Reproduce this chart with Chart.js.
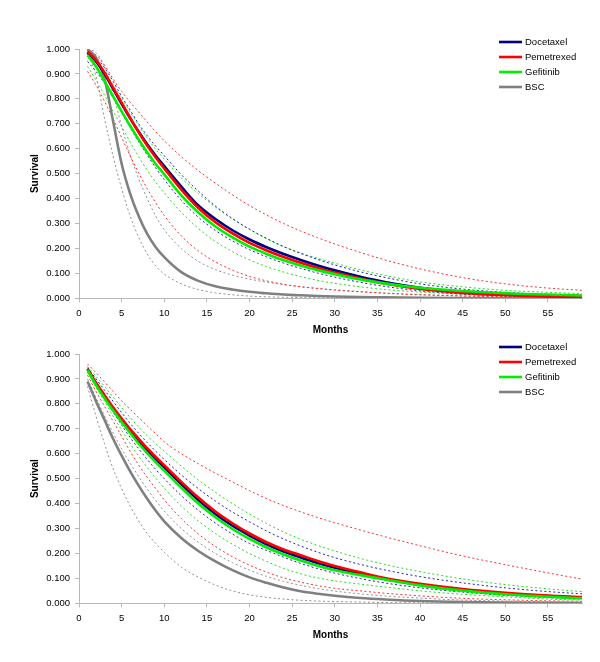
<!DOCTYPE html>
<html>
<head>
<meta charset="utf-8">
<script src="https://cdn.jsdelivr.net/npm/chart.js"></script>
<style>
  body { margin: 0; background: #fff; }
  #wrap { position: relative; width: 600px; height: 662px; }
  canvas { position: absolute; left: 0; }
  #chartTop { top: 0; }
  #chartBottom { top: 305px; }
</style>
</head>
<body>
<div id="wrap">
  <canvas id="chartTop" width="600" height="345"></canvas>
  <canvas id="chartBottom" width="600" height="345"></canvas>
</div>
<script>
// ====== DATA ======
const months = [1, 2, 3, 4, 5, 6, 7, 8, 9, 10, 12, 14, 16, 18, 20, 22, 24, 26, 28, 30, 33, 36, 40, 45, 50, 55, 59];
const xTicks = [0, 5, 10, 15, 20, 25, 30, 35, 40, 45, 50, 55];
const yTicks = [0, 0.1, 0.2, 0.3, 0.4, 0.5, 0.6, 0.7, 0.8, 0.9, 1.0];
const treatments = ["Docetaxel", "Pemetrexed", "Gefitinib", "BSC"];

// top panel - central estimates
const topDoc = [0.985, 0.95, 0.90, 0.84, 0.78, 0.722, 0.668, 0.618, 0.572, 0.53, 0.448, 0.372, 0.318, 0.273, 0.236, 0.205, 0.178, 0.154, 0.132, 0.112, 0.086, 0.064, 0.042, 0.025, 0.015, 0.009, 0.006];
const topPem = [0.99, 0.955, 0.905, 0.845, 0.785, 0.724, 0.666, 0.613, 0.565, 0.521, 0.436, 0.362, 0.305, 0.26, 0.222, 0.192, 0.166, 0.143, 0.122, 0.103, 0.079, 0.058, 0.037, 0.021, 0.012, 0.007, 0.005];
const topGef = [0.975, 0.93, 0.87, 0.81, 0.75, 0.692, 0.637, 0.586, 0.539, 0.497, 0.413, 0.344, 0.288, 0.244, 0.207, 0.178, 0.153, 0.132, 0.113, 0.097, 0.076, 0.059, 0.042, 0.029, 0.02, 0.015, 0.011];
const topBsc = [1.0, 0.965, 0.88, 0.71, 0.54, 0.42, 0.33, 0.258, 0.205, 0.165, 0.105, 0.07, 0.048, 0.035, 0.026, 0.02, 0.015, 0.012, 0.009, 0.007, 0.005, 0.004, 0.002, 0.001, 0, 0, 0];
// top panel - bounds
const topDocHi = [0.995, 0.965, 0.925, 0.87, 0.81, 0.755, 0.70, 0.652, 0.61, 0.572, 0.496, 0.43, 0.37, 0.32, 0.277, 0.24, 0.207, 0.18, 0.156, 0.134, 0.106, 0.083, 0.058, 0.037, 0.024, 0.016, 0.012];
const topDocLo = [0.95, 0.91, 0.862, 0.805, 0.745, 0.685, 0.628, 0.575, 0.523, 0.476, 0.393, 0.325, 0.272, 0.23, 0.195, 0.166, 0.141, 0.12, 0.101, 0.085, 0.064, 0.047, 0.03, 0.017, 0.01, 0.006, 0.004];
const topPemHi = [1.0, 0.975, 0.935, 0.88, 0.83, 0.787, 0.747, 0.707, 0.668, 0.632, 0.568, 0.512, 0.462, 0.415, 0.372, 0.334, 0.3, 0.27, 0.243, 0.218, 0.184, 0.153, 0.118, 0.083, 0.058, 0.041, 0.032];
const topPemLo = [0.91, 0.855, 0.79, 0.72, 0.645, 0.572, 0.503, 0.44, 0.383, 0.332, 0.25, 0.19, 0.146, 0.113, 0.088, 0.07, 0.056, 0.046, 0.039, 0.033, 0.026, 0.02, 0.014, 0.009, 0.006, 0.004, 0.003];
const topGefHi = [0.99, 0.957, 0.912, 0.857, 0.802, 0.747, 0.693, 0.643, 0.598, 0.558, 0.483, 0.42, 0.366, 0.318, 0.277, 0.24, 0.208, 0.182, 0.16, 0.141, 0.114, 0.091, 0.066, 0.046, 0.032, 0.024, 0.019];
const topGefLo = [0.93, 0.875, 0.815, 0.75, 0.69, 0.627, 0.568, 0.514, 0.466, 0.423, 0.345, 0.28, 0.228, 0.187, 0.154, 0.127, 0.105, 0.087, 0.072, 0.06, 0.046, 0.035, 0.025, 0.016, 0.011, 0.008, 0.006];
const topBscHi = [1.0, 0.985, 0.93, 0.82, 0.69, 0.575, 0.48, 0.40, 0.33, 0.275, 0.2, 0.148, 0.115, 0.093, 0.077, 0.065, 0.055, 0.047, 0.04, 0.034, 0.027, 0.021, 0.015, 0.01, 0.007, 0.005, 0.004];
const topBscLo = [0.99, 0.89, 0.72, 0.57, 0.44, 0.33, 0.245, 0.178, 0.13, 0.097, 0.058, 0.035, 0.022, 0.014, 0.009, 0.006, 0.004, 0.003, 0.002, 0.002, 0.001, 0.001, 0, 0, 0, 0, 0];

// bottom panel - central estimates
const botDoc = [0.94, 0.882, 0.83, 0.781, 0.735, 0.692, 0.651, 0.613, 0.578, 0.545, 0.478, 0.414, 0.358, 0.311, 0.272, 0.237, 0.208, 0.184, 0.162, 0.143, 0.118, 0.097, 0.074, 0.054, 0.039, 0.029, 0.022];
const botPem = [0.94, 0.885, 0.835, 0.786, 0.741, 0.699, 0.66, 0.622, 0.587, 0.554, 0.487, 0.424, 0.368, 0.321, 0.28, 0.245, 0.216, 0.193, 0.17, 0.15, 0.124, 0.1, 0.078, 0.057, 0.042, 0.031, 0.025];
const botGef = [0.935, 0.875, 0.822, 0.773, 0.727, 0.683, 0.641, 0.602, 0.566, 0.532, 0.464, 0.4, 0.345, 0.298, 0.258, 0.224, 0.196, 0.172, 0.151, 0.133, 0.113, 0.095, 0.072, 0.051, 0.036, 0.026, 0.02];
const botBsc = [0.89, 0.81, 0.735, 0.66, 0.592, 0.529, 0.472, 0.419, 0.371, 0.329, 0.262, 0.21, 0.168, 0.133, 0.104, 0.082, 0.063, 0.048, 0.038, 0.03, 0.021, 0.015, 0.009, 0.005, 0.003, 0.002, 0.001];
// bottom panel - bounds
const botDocHi = [0.945, 0.9, 0.855, 0.81, 0.765, 0.722, 0.682, 0.645, 0.61, 0.577, 0.515, 0.46, 0.41, 0.366, 0.327, 0.29, 0.258, 0.23, 0.205, 0.183, 0.156, 0.133, 0.107, 0.082, 0.062, 0.047, 0.038];
const botDocLo = [0.93, 0.875, 0.822, 0.768, 0.715, 0.665, 0.62, 0.577, 0.537, 0.5, 0.432, 0.373, 0.322, 0.278, 0.24, 0.212, 0.185, 0.16, 0.139, 0.121, 0.099, 0.081, 0.062, 0.045, 0.032, 0.023, 0.018];
const botPemHi = [0.96, 0.925, 0.888, 0.85, 0.812, 0.778, 0.745, 0.712, 0.68, 0.648, 0.6, 0.56, 0.522, 0.487, 0.452, 0.42, 0.392, 0.367, 0.344, 0.323, 0.294, 0.266, 0.231, 0.19, 0.155, 0.122, 0.097];
const botPemLo = [0.915, 0.85, 0.79, 0.73, 0.67, 0.61, 0.555, 0.505, 0.46, 0.415, 0.34, 0.278, 0.228, 0.187, 0.153, 0.125, 0.102, 0.085, 0.071, 0.06, 0.05, 0.04, 0.03, 0.02, 0.014, 0.01, 0.008];
const botGefHi = [0.95, 0.91, 0.87, 0.827, 0.785, 0.745, 0.707, 0.672, 0.64, 0.61, 0.55, 0.495, 0.445, 0.4, 0.358, 0.32, 0.286, 0.257, 0.232, 0.21, 0.18, 0.155, 0.127, 0.098, 0.075, 0.058, 0.047];
const botGefLo = [0.925, 0.865, 0.81, 0.75, 0.695, 0.64, 0.59, 0.545, 0.502, 0.462, 0.39, 0.33, 0.28, 0.237, 0.2, 0.168, 0.14, 0.118, 0.102, 0.09, 0.077, 0.065, 0.05, 0.036, 0.026, 0.017, 0.013];
const botBscHi = [0.9, 0.825, 0.752, 0.683, 0.62, 0.562, 0.508, 0.458, 0.412, 0.37, 0.3, 0.245, 0.2, 0.163, 0.133, 0.108, 0.088, 0.072, 0.059, 0.049, 0.038, 0.029, 0.021, 0.013, 0.009, 0.006, 0.004];
const botBscLo = [0.87, 0.75, 0.64, 0.54, 0.46, 0.39, 0.33, 0.28, 0.24, 0.205, 0.145, 0.105, 0.073, 0.05, 0.034, 0.024, 0.017, 0.012, 0.009, 0.007, 0.005, 0.003, 0.002, 0.001, 0, 0, 0];

// ====== STYLE ======
const colors = ["#000080", "#ff0000", "#00ee00", "#808080"];
const boundColors = ["#2020c0", "#ff3030", "#20e020", "#909090"];
const FONT = "'Liberation Sans', Arial, sans-serif";
const AXIS_GREY = "#b8b8b8";
Chart.defaults.font.family = FONT;
Chart.defaults.color = "#000";

function toPoints(values) {
  return months.map((m, i) => ({ x: m, y: values[i] }));
}

function buildDatasets(main, bounds) {
  const sets = [];
  // main curves on top, Gefitinib drawn last
  const solidOrder = [2, 1, 0, 3];
  main.forEach((vals, i) => {
    sets.push({
      label: treatments[i],
      data: toPoints(vals),
      borderColor: colors[i],
      borderWidth: 2.6,
      order: solidOrder[i],
      isMain: true
    });
  });
  bounds.forEach((pair, i) => {
    pair.forEach((vals) => {
      sets.push({
        label: treatments[i] + " bound",
        data: toPoints(vals),
        borderColor: boundColors[i],
        borderWidth: 1,
        borderDash: [2, 2.5],
        order: 10 + i,
        isMain: false
      });
    });
  });
  return sets;
}

// legend drawn inside the upper right corner
const cornerLegend = {
  id: "cornerLegend",
  afterDraw(chart) {
    const ctx = chart.ctx;
    const area = chart.chartArea;
    const x0 = area.right - 83;
    const y0 = area.top - 7;
    ctx.save();
    ctx.font = "9.5px " + FONT;
    ctx.textBaseline = "middle";
    ctx.textAlign = "left";
    chart.data.datasets.filter(d => d.isMain).forEach((d, i) => {
      const y = y0 + i * 15;
      ctx.strokeStyle = d.borderColor;
      ctx.lineWidth = 2.6;
      ctx.beginPath();
      ctx.moveTo(x0, y);
      ctx.lineTo(x0 + 23, y);
      ctx.stroke();
      ctx.fillStyle = "#000";
      ctx.fillText(d.label, x0 + 26, y);
    });
    ctx.restore();
  }
};

function makeChart(id, main, bounds) {
  return new Chart(document.getElementById(id), {
    type: "line",
    data: { datasets: buildDatasets(main, bounds) },
    plugins: [cornerLegend],
    options: {
      responsive: false,
      animation: false,
      layout: { padding: { left: 0, right: 18, top: 49, bottom: 8.3 } },
      elements: {
        point: { radius: 0 },
        line: { cubicInterpolationMode: "monotone", fill: false }
      },
      plugins: { legend: { display: false }, tooltip: { enabled: false } },
      scales: {
        x: {
          type: "linear",
          min: 0,
          max: 59,
          afterBuildTicks: (s) => { s.ticks = xTicks.map(v => ({ value: v })); },
          afterFit: (s) => { s.height = 38.4; },
          grid: { drawOnChartArea: false, color: AXIS_GREY, tickLength: 4 },
          border: { color: AXIS_GREY },
          ticks: { font: { size: 9.5 }, padding: 5, maxRotation: 0, autoSkip: false },
          title: { display: true, text: "Months", font: { size: 10, weight: "bold" }, padding: 0 }
        },
        y: {
          min: 0,
          max: 1,
          afterBuildTicks: (s) => { s.ticks = yTicks.map(v => ({ value: v })); },
          afterFit: (s) => { s.width = 79; },
          grid: { drawOnChartArea: false, color: AXIS_GREY, tickLength: 4 },
          border: { color: AXIS_GREY },
          ticks: { font: { size: 9.5 }, padding: 5, callback: (v) => Number(v).toFixed(3) },
          title: { display: true, text: "Survival", font: { size: 10, weight: "bold" }, padding: { top: 29, bottom: 0 } }
        }
      }
    }
  });
}

makeChart("chartTop",
  [topDoc, topPem, topGef, topBsc],
  [[topDocHi, topDocLo], [topPemHi, topPemLo], [topGefHi, topGefLo], [topBscHi, topBscLo]]);

makeChart("chartBottom",
  [botDoc, botPem, botGef, botBsc],
  [[botDocHi, botDocLo], [botPemHi, botPemLo], [botGefHi, botGefLo], [botBscHi, botBscLo]]);
</script>
</body>
</html>
